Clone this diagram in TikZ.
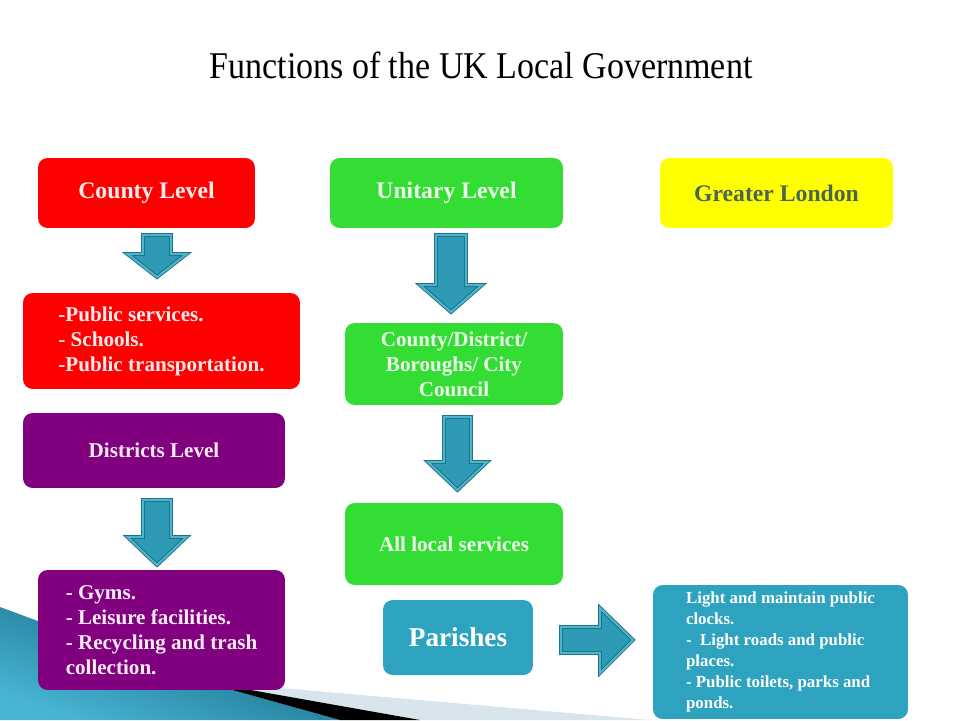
\documentclass[tikz,border=0pt]{standalone}
\usepackage{fontspec}
\setmainfont{Liberation Serif}
\newfontfamily\titlefont[FakeStretch=0.9]{Liberation Serif}
\newfontfamily\headfont[FakeStretch=0.999]{Liberation Serif}
\newfontfamily\bodyfont{Liberation Serif}
\usetikzlibrary{calc}
\definecolor{boxred}{HTML}{FF0000}
\definecolor{boxgreen}{HTML}{33DD33}
\definecolor{boxyellow}{HTML}{FFFF00}
\definecolor{boxpurple}{HTML}{800080}
\definecolor{boxteal}{HTML}{2EA3C0}
\definecolor{arrteal}{HTML}{2E9AB5}
\definecolor{arrlight}{HTML}{4DB6CE}
\definecolor{arrdark}{HTML}{1B6B7E}
\definecolor{londontext}{HTML}{4A6652}
\definecolor{wedgedark}{HTML}{0E5F78}
\definecolor{wedgelight}{HTML}{48B4D4}
\definecolor{stripe}{HTML}{D8E5EC}
\tikzset{
  base/.style={rectangle,rounded corners=5.5pt,align=center,inner sep=2pt},
  head/.style={base,minimum width=4.66cm,minimum height=1.4cm},
  redbox/.style={base,fill=boxred,text=red!8!white},
  greenbox/.style={base,fill=boxgreen,text=green!8!white,minimum width=4.36cm,minimum height=1.64cm},
  purplebox/.style={base,fill=boxpurple,text=magenta!8!white},
  tealbox/.style={base,fill=boxteal,text=white},
  blockarrow/.style={draw=arrdark,line width=0.5pt,double=arrlight,
    double distance=1.2pt,fill=arrteal},
}

\begin{document}
\begin{tikzpicture}[x=0.02cm,y=-0.02cm]
\useasboundingbox (0,0) rectangle (960,720);
% ---- background corner ----
\shade[top color=wedgedark,bottom color=wedgelight,shading angle=-20]
  (0,607) -- (200,681) -- (340,720) -- (0,720) -- cycle;
\fill[stripe] (200,681) -- (650,720) -- (420,720) -- cycle;
\fill[black] (200,681) -- (420,720) -- (340,720) -- cycle;

% ---- title ----
\node (title) at (481,65) {\titlefont\fontsize{21.5}{24}\selectfont Functions of the UK Local Government};

% ---- County column ----
\node[head,redbox,minimum width=4.34cm,font=\headfont\bfseries\fontsize{13.5}{16}\selectfont] (county) at (146.5,193) {County Level};
\node[redbox,minimum width=5.54cm,minimum height=1.92cm,align=left,font=\bodyfont\bfseries\fontsize{12}{14.2}\selectfont] (pub) at (161.5,341)
  {-Public services.\\- Schools.\\-Public transportation.};
\node[purplebox,minimum width=5.24cm,minimum height=1.5cm,font=\bodyfont\bfseries\fontsize{12}{14.2}\selectfont] (district) at (154,450.5) {Districts Level};
\node[purplebox,minimum width=4.94cm,minimum height=2.4cm,align=left,font=\bodyfont\bfseries\fontsize{12}{14.2}\selectfont] (gyms) at (161.5,630)
  {- Gyms.\\- Leisure facilities.\\- Recycling and trash\\collection.};
\draw[blockarrow] (143,235) -- (171,235) -- (171,254) -- (186.5,254) -- (157,277)
  -- (127.5,254) -- (143,254) -- cycle;
\draw[blockarrow] (143,500) -- (171,500) -- (171,537) -- (186.5,537) -- (157,565)
  -- (127.5,537) -- (143,537) -- cycle;

% ---- Unitary column ----
\node[head,greenbox,minimum width=4.66cm,minimum height=1.4cm,font=\headfont\bfseries\fontsize{13.5}{16}\selectfont] (unitary) at (446.5,193) {Unitary Level};
\node[greenbox,font=\bodyfont\bfseries\fontsize{12}{14.2}\selectfont] (council) at (454,364) {County/District/\\Boroughs/ City\\Council};
\node[greenbox,font=\bodyfont\bfseries\fontsize{12}{14.2}\selectfont] (allloc) at (454,544) {All local services};
\node[tealbox,minimum width=3cm,minimum height=1.5cm,font=\headfont\bfseries\fontsize{15.5}{18}\selectfont] (parish) at (458,637.5) {Parishes};
\draw[blockarrow] (436,235) -- (466,235) -- (466,285) -- (482,285) -- (451,312)
  -- (420,285) -- (436,285) -- cycle;
\draw[blockarrow] (444,417) -- (471,417) -- (471,462) -- (487,462) -- (457.5,490)
  -- (428,462) -- (444,462) -- cycle;
\draw[blockarrow] (561,627) -- (600,627) -- (600,608) -- (633,640) -- (600,673)
  -- (600,653) -- (561,653) -- cycle;

% ---- Greater London ----
\node[head,fill=boxyellow,text=londontext,font=\headfont\bfseries\fontsize{13.5}{16}\selectfont] (london) at (776.5,193) {Greater London};
\node[tealbox,minimum width=5.1cm,minimum height=2.68cm,align=left,
  font=\bodyfont\bfseries\fontsize{9.6}{12}\selectfont] (parishjobs) at (780.5,652)
  {Light and maintain public\\clocks.\\-\ \ Light roads and public\\places.\\- Public toilets, parks and\\ponds.};
\end{tikzpicture}
\end{document}
